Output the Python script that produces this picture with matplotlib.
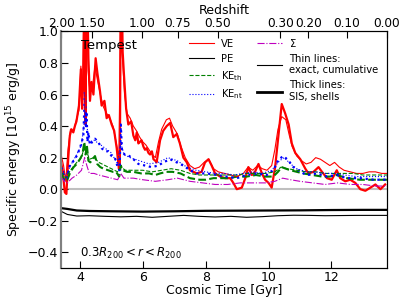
import numpy as np
import matplotlib
matplotlib.use('Agg')
import matplotlib.pyplot as plt
from matplotlib.lines import Line2D

# Datos (tiempo cosmico en Gyr, energia en 1e15 erg/g)
t_ve_thick = [3.40, 3.45, 3.52, 3.57, 3.63, 3.68, 3.73, 3.79, 3.84, 3.89, 3.97, 4.03, 4.07,
              4.11, 4.14, 4.18, 4.20, 4.23, 4.27, 4.32, 4.37, 4.43, 4.50, 4.56, 4.64, 4.69,
              4.78, 4.85, 4.92, 5.01, 5.09, 5.17, 5.24, 5.27, 5.30, 5.33, 5.36, 5.40, 5.47,
              5.54, 5.63, 5.70, 5.76, 5.81, 5.86, 5.91, 5.96, 6.02, 6.07, 6.12, 6.18, 6.23,
              6.29, 6.34, 6.40, 6.44, 6.55, 6.65, 6.76, 6.87, 6.97, 7.08, 7.18, 7.29, 7.40,
              7.50, 7.61, 7.72, 7.87, 7.98, 8.09, 8.19, 8.30, 8.46, 8.62, 8.78, 8.88, 8.99,
              9.15, 9.26, 9.36, 9.47, 9.57, 9.68, 9.79, 9.89, 10.00, 10.10, 10.21, 10.32,
              10.42, 10.53, 10.64, 10.74, 10.85, 11.01, 11.17, 11.27, 11.43, 11.59, 11.70,
              11.86, 12.01, 12.17, 12.28, 12.44, 12.60, 12.76, 12.92, 13.08, 13.24, 13.40,
              13.56, 13.71]
ve_thick = [0.17, 0.12, -0.02, -0.03, 0.20, 0.34, 0.38, 0.36, 0.40, 0.43, 0.53, 0.76, 0.51,
            0.70, 1.30, 0.41, 1.30, 1.30, 0.83, 0.56, 0.68, 0.60, 0.83, 0.73, 0.62, 0.53,
            0.56, 0.45, 0.47, 0.41, 0.37, 0.26, 0.13, 0.15, 1.30, 1.30, 0.87, 0.73, 0.51,
            0.41, 0.43, 0.34, 0.31, 0.36, 0.29, 0.30, 0.31, 0.27, 0.25, 0.26, 0.23, 0.22,
            0.24, 0.19, 0.18, 0.17, 0.31, 0.37, 0.40, 0.42, 0.33, 0.35, 0.29, 0.20, 0.17,
            0.12, 0.11, 0.10, 0.11, 0.17, 0.19, 0.15, 0.10, 0.08, 0.07, 0.07, 0.04, 0.00,
            0.01, 0.07, 0.14, 0.09, 0.11, 0.16, 0.10, 0.06, 0.04, 0.01, 0.14, 0.35,
            0.54, 0.48, 0.41, 0.29, 0.23, 0.19, 0.13, 0.10, 0.11, 0.14, 0.11,
            0.07, 0.06, 0.12, 0.07, 0.05, 0.06, 0.04, 0.00, -0.01, 0.01, 0.03,
            0.00, 0.03]

t_ve_thin = [3.40, 3.48, 3.55, 3.62, 3.70, 3.80, 3.90, 3.97, 4.03, 4.08, 4.13, 4.17, 4.21,
             4.26, 4.32, 4.40, 4.48, 4.55, 4.65, 4.75, 4.85, 4.95, 5.05, 5.15, 5.24, 5.30,
             5.35, 5.42, 5.50, 5.60, 5.70, 5.80, 5.90, 6.00, 6.10, 6.20, 6.30, 6.40, 6.50,
             6.60, 6.75, 6.85, 6.95, 7.10, 7.20, 7.35, 7.50, 7.65, 7.80, 7.95, 8.10, 8.25,
             8.40, 8.60, 8.80, 9.00, 9.20, 9.35, 9.50, 9.65, 9.80, 9.95, 10.10, 10.20, 10.30,
             10.42, 10.55, 10.65, 10.75, 10.90, 11.05, 11.20, 11.35, 11.50, 11.65, 11.80,
             11.95, 12.10, 12.25, 12.40, 12.60, 12.80, 13.00, 13.20, 13.40, 13.60, 13.77]
ve_thin = [0.22, 0.15, 0.05, 0.25, 0.38, 0.37, 0.45, 0.50, 0.78, 0.60, 1.20, 0.50, 1.20,
           0.75, 0.62, 0.65, 0.78, 0.70, 0.60, 0.52, 0.48, 0.45, 0.40, 0.30, 0.20, 1.20,
           0.85, 0.60, 0.48, 0.45, 0.40, 0.37, 0.33, 0.30, 0.28, 0.25, 0.22, 0.20, 0.30,
           0.38, 0.44, 0.45, 0.40, 0.35, 0.28, 0.20, 0.15, 0.13, 0.14, 0.17, 0.19, 0.13,
           0.11, 0.10, 0.09, 0.08, 0.10, 0.14, 0.12, 0.15, 0.13, 0.12, 0.15, 0.25, 0.38,
           0.46, 0.44, 0.35, 0.27, 0.21, 0.18, 0.16, 0.17, 0.20, 0.19, 0.17,
           0.15, 0.17, 0.14, 0.12, 0.11, 0.10, 0.10, 0.11, 0.11, 0.10, 0.10]

t_th_thick = [3.40, 3.50, 3.58, 3.70, 3.80, 3.90, 4.00, 4.08, 4.14, 4.18, 4.22, 4.27, 4.33,
              4.40, 4.48, 4.55, 4.65, 4.75, 4.90, 5.05, 5.15, 5.25, 5.30, 5.36, 5.50, 5.70,
              5.95, 6.20, 6.40, 6.55, 6.75, 6.95, 7.20, 7.50, 7.80, 8.00, 8.25, 8.50, 8.75,
              9.00, 9.30, 9.60, 9.90, 10.15, 10.30, 10.42, 10.55, 10.70, 10.90, 11.10, 11.40,
              11.70, 11.95, 12.17, 12.50, 12.90, 13.30, 13.77]
th_thick = [0.10, 0.06, 0.05, 0.11, 0.14, 0.16, 0.19, 0.22, 0.30, 0.22, 0.28, 0.18, 0.17,
            0.19, 0.21, 0.16, 0.14, 0.13, 0.12, 0.11, 0.11, 0.08, 0.15, 0.12, 0.11, 0.11,
            0.10, 0.10, 0.09, 0.10, 0.11, 0.11, 0.10, 0.07, 0.06, 0.06, 0.07, 0.07, 0.07,
            0.08, 0.08, 0.09, 0.08, 0.08, 0.11, 0.14, 0.13, 0.12, 0.11, 0.10, 0.09,
            0.08, 0.08, 0.09, 0.07, 0.06, 0.06, 0.06]

t_th_thin = [3.40, 3.55, 3.70, 3.90, 4.05, 4.14, 4.20, 4.30, 4.45, 4.60, 4.80, 5.00, 5.20,
             5.30, 5.45, 5.70, 6.00, 6.30, 6.60, 6.90, 7.20, 7.50, 7.80, 8.10, 8.40, 8.70,
             9.00, 9.30, 9.60, 9.90, 10.20, 10.40, 10.60, 10.90, 11.20, 11.50, 11.80, 12.10,
             12.40, 12.70, 13.00, 13.40, 13.77]
th_thin = [0.11, 0.07, 0.12, 0.17, 0.20, 0.27, 0.25, 0.19, 0.20, 0.17, 0.15, 0.13, 0.11,
           0.14, 0.12, 0.12, 0.12, 0.11, 0.12, 0.13, 0.12, 0.10, 0.09, 0.09, 0.09, 0.09,
           0.09, 0.10, 0.10, 0.10, 0.11, 0.14, 0.13, 0.12, 0.11, 0.11, 0.10, 0.10,
           0.10, 0.10, 0.09, 0.09, 0.09]

t_nt_thick = [3.40, 3.47, 3.55, 3.62, 3.68, 3.76, 3.84, 3.92, 4.00, 4.06, 4.11, 4.16, 4.19,
              4.21, 4.24, 4.27, 4.32, 4.39, 4.48, 4.58, 4.69, 4.80, 4.90, 5.01, 5.11, 5.22,
              5.26, 5.30, 5.34, 5.42, 5.49, 5.65, 5.86, 6.07, 6.28, 6.50, 6.65, 6.87, 7.08,
              7.29, 7.50, 7.72, 8.03, 8.35, 8.67, 8.99, 9.31, 9.63, 9.94, 10.16, 10.32,
              10.48, 10.64, 10.79, 11.01, 11.22, 11.54, 11.86, 12.17, 12.49, 12.92, 13.34,
              13.77]
nt_thick = [0.14, 0.10, 0.05, 0.10, 0.15, 0.17, 0.19, 0.22, 0.26, 0.30, 0.34, 0.62, 0.40,
            0.49, 0.30, 0.36, 0.28, 0.30, 0.32, 0.30, 0.26, 0.24, 0.24, 0.21, 0.20, 0.13,
            0.12, 0.41, 0.24, 0.22, 0.22, 0.20, 0.16, 0.15, 0.14, 0.15, 0.17, 0.19, 0.17,
            0.15, 0.12, 0.10, 0.10, 0.09, 0.08, 0.07, 0.09, 0.10, 0.09, 0.12, 0.19,
            0.21, 0.18, 0.14, 0.11, 0.09, 0.10, 0.08, 0.09, 0.07, 0.07, 0.06,
            0.06]

t_nt_thin = [3.40, 3.55, 3.70, 3.90, 4.05, 4.15, 4.22, 4.30, 4.45, 4.60, 4.80, 5.00, 5.20,
             5.30, 5.40, 5.60, 5.90, 6.20, 6.50, 6.80, 7.10, 7.40, 7.70, 8.00, 8.30, 8.60,
             8.90, 9.20, 9.50, 9.80, 10.10, 10.35, 10.50, 10.70, 10.90, 11.20, 11.50, 11.80,
             12.10, 12.40, 12.80, 13.20, 13.77]
nt_thin = [0.15, 0.08, 0.15, 0.22, 0.28, 0.45, 0.40, 0.30, 0.31, 0.29, 0.26, 0.23, 0.16,
           0.30, 0.22, 0.20, 0.18, 0.16, 0.17, 0.20, 0.18, 0.14, 0.12, 0.11, 0.10, 0.10,
           0.09, 0.10, 0.11, 0.10, 0.12, 0.18, 0.20, 0.16, 0.13, 0.11, 0.11, 0.10,
           0.10, 0.09, 0.08, 0.08, 0.08]

t_sigma = [3.40, 3.50, 3.60, 3.75, 3.90, 4.05, 4.15, 4.22, 4.30, 4.45, 4.60, 4.80, 5.00,
           5.20, 5.30, 5.40, 5.70, 6.00, 6.40, 6.80, 7.10, 7.50, 7.90, 8.30, 8.70, 9.10,
           9.50, 9.90, 10.20, 10.45, 10.70, 11.00, 11.40, 11.80, 12.20, 12.60, 13.00,
           13.40, 13.77]
sigma = [0.08, 0.05, 0.04, 0.07, 0.09, 0.12, 0.20, 0.15, 0.10, 0.10, 0.09, 0.08, 0.07,
         0.06, 0.10, 0.07, 0.07, 0.06, 0.05, 0.06, 0.07, 0.05, 0.04, 0.03, 0.03, 0.04,
         0.04, 0.04, 0.05, 0.07, 0.06, 0.05, 0.04, 0.03, 0.04, 0.03, 0.03,
         0.02, 0.02]

t_pe_thick = [3.40, 3.60, 3.90, 4.30, 5.00, 6.00, 7.00, 8.00, 9.00, 10.00, 11.00, 12.00,
              13.00, 13.77]
pe_thick = [-0.120, -0.125, -0.135, -0.138, -0.140, -0.142, -0.140, -0.137, -0.136, -0.135,
            -0.134, -0.132, -0.131, -0.131]

t_pe_thin = [3.40, 3.60, 3.90, 4.30, 4.80, 5.30, 5.80, 6.30, 6.80, 7.30, 7.80, 8.30, 8.80,
             9.30, 9.80, 10.30, 10.80, 11.30, 11.80, 12.30, 12.80, 13.30, 13.77]
pe_thin = [-0.140, -0.160, -0.170, -0.168, -0.172, -0.175, -0.172, -0.178, -0.172, -0.166,
           -0.172, -0.176, -0.172, -0.178, -0.174, -0.168, -0.165, -0.166, -0.168, -0.167,
           -0.166, -0.166, -0.166]

# Eje superior: redshift y su tiempo cosmico correspondiente
z_labels = ['2.00', '1.50', '1.00', '0.75', '0.50', '0.30', '0.20', '0.10', '0.00']
z_times = [3.40, 4.40, 5.97, 7.12, 8.39, 10.37, 11.27, 12.49, 13.77]

fig = plt.figure(figsize=(4.07, 3.05), dpi=100)
ax = fig.add_axes([0.150, 0.121, 0.801, 0.776])

ax.axhline(0, color='0.75', lw=1.5, zorder=1)

# Lineas gruesas: SIS, shells
ax.plot(t_ve_thick, ve_thick, color='red', lw=1.6)
ax.plot(t_pe_thick, pe_thick, color='black', lw=1.6)
ax.plot(t_th_thick, th_thick, color='green', lw=1.5, ls='--')
ax.plot(t_nt_thick, nt_thick, color='blue', lw=1.6, ls=':')

# Lineas finas: exact, cumulative
l_ve, = ax.plot(t_ve_thin, ve_thin, color='red', lw=0.8, label='VE')
l_pe, = ax.plot(t_pe_thin, pe_thin, color='black', lw=0.8, label='PE')
l_th, = ax.plot(t_th_thin, th_thin, color='green', lw=0.8, ls='--', label=r'KE$_{\rm th}$')
l_nt, = ax.plot(t_nt_thin, nt_thin, color='blue', lw=0.8, ls=':', label=r'KE$_{\rm nt}$')
l_sg, = ax.plot(t_sigma, sigma, color='m', lw=0.8, ls='-.', label=r'$\Sigma$')

thin_h = Line2D([], [], color='black', lw=0.8, label='Thin lines:\nexact, cumulative')
thick_h = Line2D([], [], color='black', lw=2.0, label='Thick lines:\nSIS, shells')

ax.legend(handles=[l_ve, l_pe, l_th, l_nt, l_sg, thin_h, thick_h], ncol=2, frameon=False,
          fontsize=7.2, loc='upper right', bbox_to_anchor=(1.0, 1.015), handlelength=2.5,
          handletextpad=0.7, columnspacing=1.4, labelspacing=0.5)

ax.set_xlim(3.40, 13.77)
ax.set_ylim(-0.5, 1.0)
ax.set_yticks(np.arange(-0.4, 1.01, 0.2))
ax.set_xticks([4, 6, 8, 10, 12])
ax.tick_params(direction='in', labelsize=9, length=5, pad=2)
ax.set_xlabel('Cosmic Time [Gyr]', fontsize=9, labelpad=0)
ax.set_ylabel(r'Specific energy [10$^{15}$ erg/g]', fontsize=9, labelpad=3)
ax.spines['left'].set_color('0.5')
ax.spines['left'].set_linewidth(1.5)

ax.text(4.05, 0.91, 'Tempest', fontsize=9.5, va='center')
ax.text(4.0, -0.41, r'$0.3R_{200} < r < R_{200}$', fontsize=8.5, va='center')

ax2 = ax.twiny()
ax2.set_xlim(ax.get_xlim())
ax2.set_xticks(z_times)
ax2.set_xticklabels(z_labels)
ax2.tick_params(direction='in', labelsize=8.7, length=5, pad=1)
ax2.set_xlabel('Redshift', fontsize=9, labelpad=2)
ax2.spines['left'].set_color('0.5')
ax2.spines['left'].set_linewidth(1.5)

fig.savefig('out.png', dpi=100)
